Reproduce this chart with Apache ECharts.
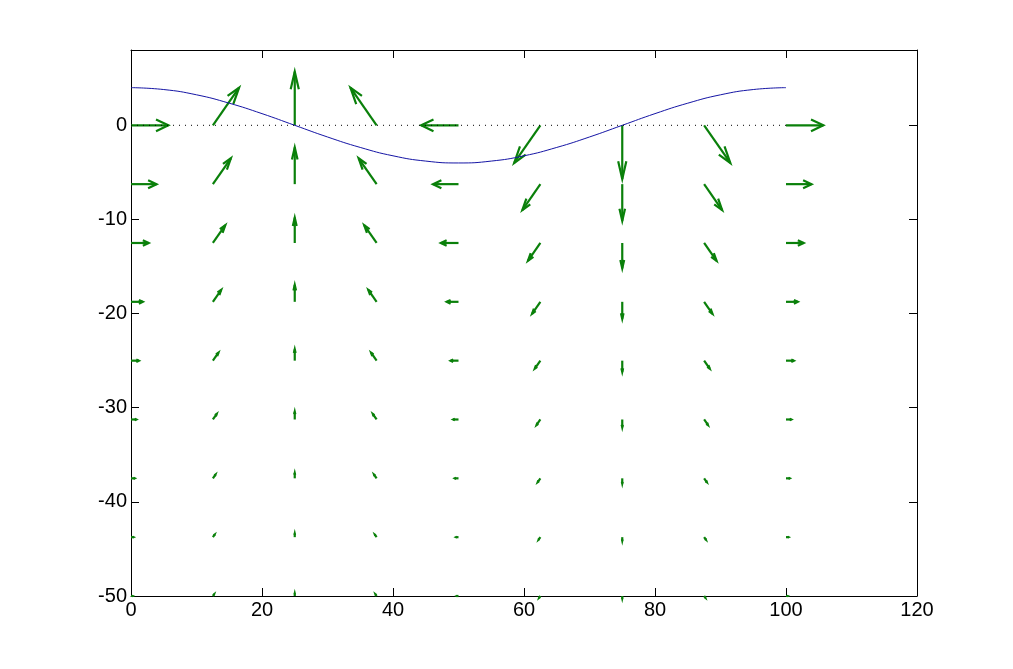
<!DOCTYPE html>
<html>
<head>
<meta charset="utf-8">
<script src="https://cdn.jsdelivr.net/npm/echarts@6/dist/echarts.min.js"></script>
<style>
  html, body { margin: 0; padding: 0; background: #fff; }
  #chart { width: 1013px; height: 669px; }
</style>
</head>
<body>
<div id="chart"></div>
<script>
// grid of arrow tails
const gridX = [0, 12.5, 25, 37.5, 50, 62.5, 75, 87.5, 100];
const gridY = [0, -6.25, -12.5, -18.75, -25, -31.25, -37.5, -43.75, -50];

// arrow components (rows follow gridY, columns gridX)
const arrowU = [
  [5.7, 4.0, 0, -4.0, -5.7, -4.0, 0, 4.0, 5.7],
  [3.9, 2.75, 0, -2.75, -3.9, -2.75, 0, 2.75, 3.9],
  [2.7, 1.9, 0, -1.9, -2.7, -1.9, 0, 1.9, 2.7],
  [1.8, 1.27, 0, -1.27, -1.8, -1.27, 0, 1.27, 1.8],
  [1.2, 0.85, 0, -0.85, -1.2, -0.85, 0, 0.85, 1.2],
  [0.82, 0.58, 0, -0.58, -0.82, -0.58, 0, 0.58, 0.82],
  [0.56, 0.4, 0, -0.4, -0.56, -0.4, 0, 0.4, 0.56],
  [0.38, 0.27, 0, -0.27, -0.38, -0.27, 0, 0.27, 0.38],
  [0.26, 0.18, 0, -0.18, -0.26, -0.18, 0, 0.18, 0.26]
];
const arrowV = [
  [0, 4.0, 5.7, 4.0, 0, -4.0, -5.7, -4.0, 0],
  [0, 2.75, 3.9, 2.75, 0, -2.75, -3.9, -2.75, 0],
  [0, 1.9, 2.7, 1.9, 0, -1.9, -2.7, -1.9, 0],
  [0, 1.27, 1.8, 1.27, 0, -1.27, -1.8, -1.27, 0],
  [0, 0.85, 1.2, 0.85, 0, -0.85, -1.2, -0.85, 0],
  [0, 0.58, 0.82, 0.58, 0, -0.58, -0.82, -0.58, 0],
  [0, 0.4, 0.56, 0.4, 0, -0.4, -0.56, -0.4, 0],
  [0, 0.27, 0.38, 0.27, 0, -0.27, -0.38, -0.27, 0],
  [0, 0.18, 0.26, 0.18, 0, -0.18, -0.26, -0.18, 0]
];

// surface line
const waveX = [0, 5, 10, 15, 20, 25, 30, 35, 40, 45, 50, 55, 60, 65, 70, 75, 80, 85, 90, 95, 100];
const waveY = [4, 3.8, 3.24, 2.35, 1.24, 0, -1.24, -2.35, -3.24, -3.8, -4, -3.8, -3.24, -2.35, -1.24, 0, 1.24, 2.35, 3.24, 3.8, 4];

// still-water level
const levelX = [0, 100];
const levelY = [0, 0];

let chart = echarts.init(document.getElementById('chart'));

let arrows = [];
gridY.forEach((y, i) => {
  gridX.forEach((x, j) => {
    arrows.push([x, y, arrowU[i][j], arrowV[i][j]]);
  });
});

const alpha = 0.33, beta = 0.33;
let renderArrow = (params, api) => {
  let x = api.value(0), y = api.value(1), u = api.value(2), v = api.value(3);
  let tail = api.coord([x, y]);
  let tip = api.coord([x + u, y + v]);
  let b1 = api.coord([x + u - alpha * (u + beta * v), y + v - alpha * (v - beta * u)]);
  let b2 = api.coord([x + u - alpha * (u - beta * v), y + v - alpha * (v + beta * u)]);
  let style = { stroke: '#0a800a', lineWidth: 2.2, fill: null };
  return {
    type: 'group',
    children: [
      { type: 'polyline', shape: { points: [tail, tip] }, style: style },
      { type: 'polyline', shape: { points: [b1, tip, b2] }, style: style }
    ]
  };
};

const font = { fontFamily: 'Liberation Sans, Arial, sans-serif', fontSize: 20, color: '#000' };
const axisLine = { show: true, onZero: false, lineStyle: { color: '#000', width: 1 } };
const tick = { show: true, inside: true, length: 8, lineStyle: { color: '#000' } };

chart.setOption({
  animation: false,
  backgroundColor: '#fff',
  grid: { left: 131, top: 50, right: 96, bottom: 73 },
  xAxis: [
    {
      type: 'value', min: 0, max: 120, interval: 20, position: 'bottom',
      axisLine: axisLine, axisTick: tick, splitLine: { show: false },
      axisLabel: Object.assign({ margin: 4 }, font)
    },
    {
      type: 'value', min: 0, max: 120, interval: 20, position: 'top',
      axisLine: axisLine, axisTick: tick, splitLine: { show: false },
      axisLabel: { show: false }
    }
  ],
  yAxis: [
    {
      type: 'value', min: -50, max: 8, interval: 10, position: 'left',
      axisLine: axisLine, axisTick: tick, splitLine: { show: false },
      axisLabel: Object.assign({ margin: 4, showMaxLabel: false }, font)
    },
    {
      type: 'value', min: -50, max: 8, interval: 10, position: 'right',
      axisLine: axisLine, axisTick: tick, splitLine: { show: false },
      axisLabel: { show: false }
    }
  ],
  series: [
    {
      type: 'line',
      data: waveX.map((x, i) => [x, waveY[i]]),
      smooth: true,
      showSymbol: false,
      lineStyle: { color: '#1515a5', width: 1 }
    },
    {
      type: 'line',
      data: levelX.map((x, i) => [x, levelY[i]]),
      showSymbol: false,
      lineStyle: { color: '#000', width: 1, type: [1, 5] }
    },
    {
      type: 'custom',
      renderItem: renderArrow,
      data: arrows,
      encode: { x: 0, y: 1 },
      z: 3
    }
  ]
});
</script>
</body>
</html>
